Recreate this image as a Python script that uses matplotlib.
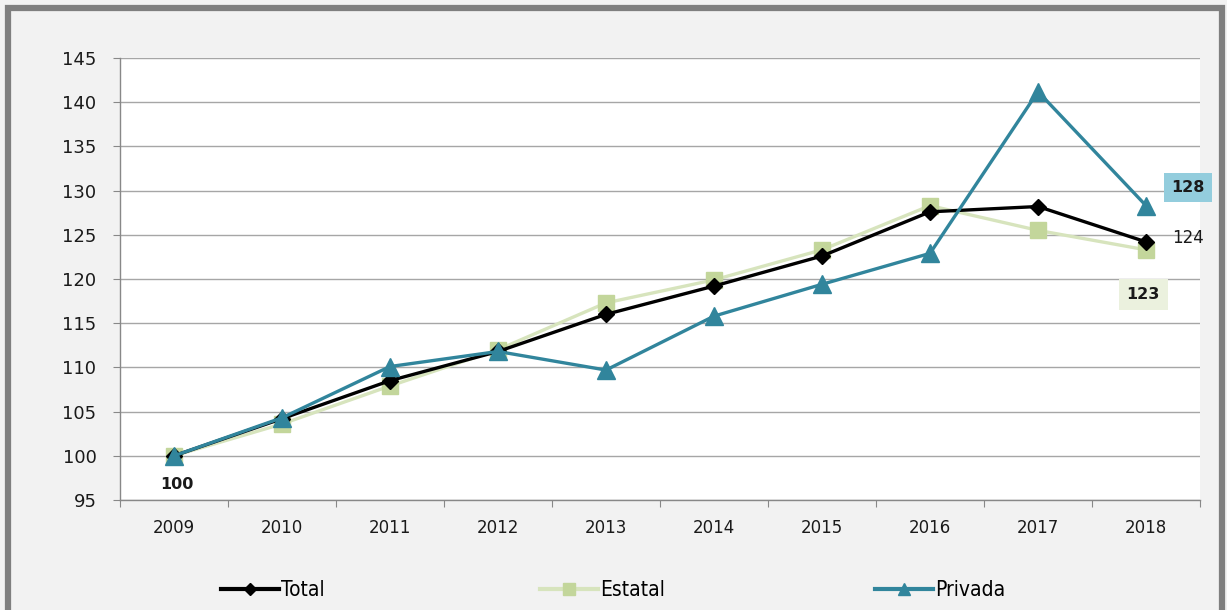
import matplotlib
matplotlib.use("Agg")
import matplotlib.pyplot as plt
from matplotlib.lines import Line2D
from matplotlib.patches import Rectangle
from matplotlib import font_manager

years = ["2009", "2010", "2011", "2012", "2013", "2014", "2015", "2016", "2017", "2018"]
total = [100, 104.2, 108.5, 111.8, 116.0, 119.2, 122.6, 127.6, 128.2, 124.2]
estatal = [100, 103.6, 107.9, 112.0, 117.3, 119.9, 123.3, 128.3, 125.5, 123.3]
privada = [100, 104.3, 110.1, 111.8, 109.7, 115.8, 119.4, 122.9, 141.2, 128.3]
y_ticks = [95, 100, 105, 110, 115, 120, 125, 130, 135, 140, 145]

c_total = "#000000"
c_est_line = "#d7e4bd"
c_est_mark = "#c3d69b"
c_priv = "#31859c"

names = {f.name for f in font_manager.fontManager.ttflist}
legend_font = "Liberation Sans Narrow" if "Liberation Sans Narrow" in names else "DejaVu Sans"

W, H = 1227, 610
fig = plt.figure(figsize=(W / 100, H / 100), dpi=100)
fig.patch.set_facecolor("#f2f2f2")

# outer frame
fig.patches.append(Rectangle((8 / W, -0.02), (1214) / W, (H - 8) / H + 0.02,
                             transform=fig.transFigure, fill=False,
                             edgecolor="#7f7f7f", linewidth=4.5, zorder=10))

ax = fig.add_axes([120 / W, 1 - 500 / H, (1200 - 120) / W, (500 - 58) / H])
ax.set_facecolor("white")
x = list(range(len(years)))

ax.plot(x, estatal, color=c_est_line, lw=2.4, marker="s", ms=11,
        mfc=c_est_mark, mec=c_est_mark, zorder=3)
ax.plot(x, total, color=c_total, lw=2.4, marker="D", ms=8,
        mfc=c_total, mec=c_total, zorder=4)
ax.plot(x, privada, color=c_priv, lw=2.4, marker="^", ms=13,
        mfc=c_priv, mec=c_priv, zorder=5)

ax.set_xlim(-0.5, len(years) - 0.5)
ax.set_ylim(95, 145)
ax.set_yticks(y_ticks)
ax.set_yticklabels([str(v) for v in y_ticks], fontsize=13, color="#1a1a1a")
ax.set_xticks([i - 0.5 for i in range(len(years) + 1)], minor=False)
ax.set_xticklabels([])
ax.set_xticks(x, minor=True)
ax.set_xticklabels(years, minor=True, fontsize=12, color="#1a1a1a")
ax.tick_params(axis="x", which="minor", length=0, pad=14)
ax.tick_params(axis="x", which="major", length=5, color="#888888", direction="out")
ax.tick_params(axis="y", length=5, color="#888888", direction="out", pad=12)

ax.grid(axis="y", color="#a6a6a6", lw=1.0)
ax.set_axisbelow(True)
for s in ["top", "right"]:
    ax.spines[s].set_visible(False)
for s in ["left", "bottom"]:
    ax.spines[s].set_color("#888888")
    ax.spines[s].set_linewidth(1.0)

# value labels
ax.annotate(f"{total[0]:.0f}", (0, total[0]), xytext=(2, -21), textcoords="offset points",
            ha="center", va="center", fontsize=11.5, fontweight="bold", color="#1a1a1a")
ax.annotate(f"{total[-1]:.0f}", (9, total[-1]), xytext=(19, 3), textcoords="offset points",
            ha="left", va="center", fontsize=12, color="#1a1a1a")
ax.annotate(f"{privada[-1]:.0f}", (9, privada[-1]), xytext=(30, 13), textcoords="offset points",
            ha="center", va="center", fontsize=11.5, fontweight="bold", color="#1a1a1a",
            bbox=dict(boxstyle="square,pad=0.45", fc="#93cddd", ec="none"))
ax.annotate(f"{estatal[-1]:.0f}", (9, estatal[-1]), xytext=(-2, -32), textcoords="offset points",
            ha="center", va="center", fontsize=11.5, fontweight="bold", color="#1a1a1a",
            bbox=dict(boxstyle="square,pad=0.5", fc="#ebf1de", ec="none"))

# legend entries placed along the bottom
entries = [
    ("Total", Line2D([], [], color=c_total, lw=3, marker="D", ms=6, mfc=c_total, mec=c_total), 221),
    ("Estatal", Line2D([], [], color=c_est_line, lw=3, marker="s", ms=8, mfc=c_est_mark, mec=c_est_mark), 540),
    ("Privada", Line2D([], [], color=c_priv, lw=3, marker="^", ms=8, mfc=c_priv, mec=c_priv), 875),
]
for label, h, px in entries:
    fig.legend([h], [label], loc="center left", bbox_to_anchor=(px / W, 1 - 590 / H),
               frameon=False, handlelength=2.8, handletextpad=0.1, borderpad=0, borderaxespad=0,
               prop={"family": legend_font, "size": 15, "stretch": "condensed"})

fig.savefig("out.png", dpi=100, facecolor=fig.get_facecolor())
